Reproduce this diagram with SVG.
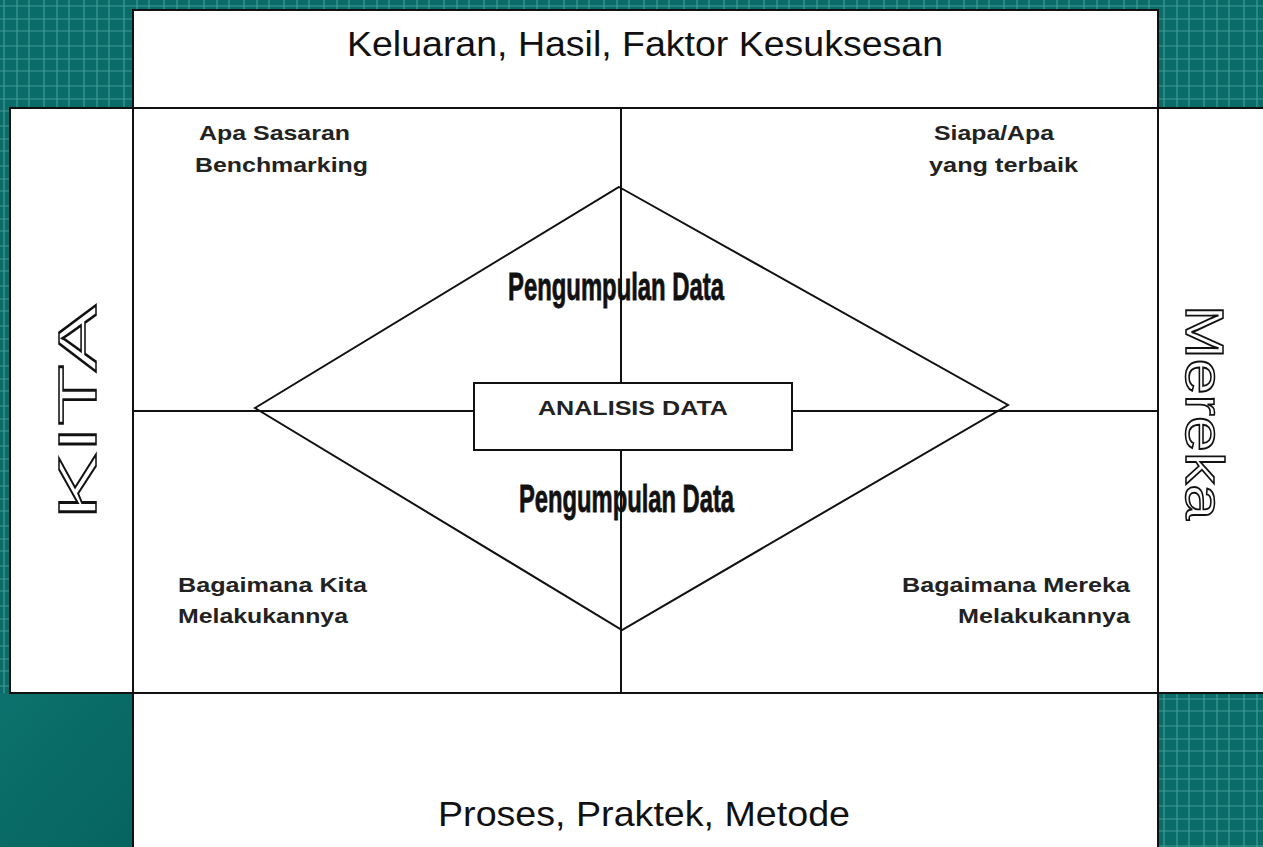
<svg xmlns="http://www.w3.org/2000/svg" width="1263" height="847" viewBox="0 0 1263 847">
<style>
.box{fill:#fff;stroke:#111;stroke-width:2}
.ln{stroke:#111;stroke-width:2;fill:none}
.big{font-family:"Liberation Sans",Arial,sans-serif;font-size:35px;fill:#111}
.lbl{font-family:"Liberation Sans",Arial,sans-serif;font-size:21px;font-weight:bold;fill:#222}
.pd{font-family:"Liberation Sans",Arial,sans-serif;font-size:38px;font-weight:bold;fill:#111;stroke:#111;stroke-width:0.8}
.out{font-family:"Liberation Sans",Arial,sans-serif;font-size:54px;fill:#fff;stroke:#111;stroke-width:1.6}
</style>
<defs>
<pattern id="grid" width="40" height="40" patternUnits="userSpaceOnUse">
<rect width="40" height="40" fill="#0a6c68"/>
<g stroke="#4fa9a2" stroke-width="1.2" opacity="0.75">
<line x1="4" y1="0" x2="4" y2="40"/><line x1="17" y1="0" x2="17" y2="40"/><line x1="29" y1="0" x2="29" y2="40"/>
<line x1="0" y1="6" x2="40" y2="6"/><line x1="0" y1="19" x2="40" y2="19"/><line x1="0" y1="31" x2="40" y2="31"/>
</g>
</pattern>
<linearGradient id="solid" x1="0" y1="0" x2="1" y2="1">
<stop offset="0" stop-color="#0c716c"/><stop offset="1" stop-color="#066460"/>
</linearGradient>
</defs>
<rect width="1263" height="847" fill="url(#grid)"/>
<rect x="0" y="693" width="134" height="154" fill="url(#solid)"/>
<g id="top">
<rect class="box" x="133" y="10" width="1025" height="98"/>
<text class="big" x="347" y="56" textLength="596" lengthAdjust="spacingAndGlyphs">Keluaran, Hasil, Faktor Kesuksesan</text>
</g>
<g id="middle">
<rect class="box" x="10" y="108" width="1260" height="585"/>
<line class="ln" x1="133" y1="108" x2="133" y2="693"/>
<line class="ln" x1="1158" y1="108" x2="1158" y2="693"/>
</g>
<g id="bottom">
<rect class="box" x="133" y="693" width="1025" height="160"/>
<text class="big" x="438" y="826" textLength="412" lengthAdjust="spacingAndGlyphs">Proses, Praktek, Metode</text>
</g>
<g id="connectors">
<line class="ln" x1="621" y1="108" x2="621" y2="693"/>
<line class="ln" x1="133" y1="411" x2="1158" y2="411"/>
<polygon class="ln" points="619,187 1008,405 622,630 255,408"/>
</g>
<g id="kita"><text class="out" x="-520" y="96" transform="rotate(-90)" textLength="215" lengthAdjust="spacingAndGlyphs">KITA</text></g>
<g id="mereka"><text class="out" x="305" y="-1186" transform="rotate(90)" textLength="215" lengthAdjust="spacingAndGlyphs">Mereka</text></g>
<g id="q1"><text class="lbl" x="199" y="140" textLength="151" lengthAdjust="spacingAndGlyphs">Apa Sasaran</text><text class="lbl" x="195" y="172" textLength="173" lengthAdjust="spacingAndGlyphs">Benchmarking</text></g>
<g id="q2"><text class="lbl" x="934" y="140" textLength="120" lengthAdjust="spacingAndGlyphs">Siapa/Apa</text><text class="lbl" x="929" y="172" textLength="149" lengthAdjust="spacingAndGlyphs">yang terbaik</text></g>
<g id="q3"><text class="lbl" x="178" y="592" textLength="189" lengthAdjust="spacingAndGlyphs">Bagaimana Kita</text><text class="lbl" x="178" y="623" textLength="170" lengthAdjust="spacingAndGlyphs">Melakukannya</text></g>
<g id="q4"><text class="lbl" x="902" y="592" textLength="228" lengthAdjust="spacingAndGlyphs">Bagaimana Mereka</text><text class="lbl" x="958" y="623" textLength="172" lengthAdjust="spacingAndGlyphs">Melakukannya</text></g>
<g id="pd1"><text class="pd" x="508" y="300" textLength="216" lengthAdjust="spacingAndGlyphs">Pengumpulan Data</text></g>
<g id="pd2"><text class="pd" x="519" y="512" textLength="215" lengthAdjust="spacingAndGlyphs">Pengumpulan Data</text></g>
<g id="analisis">
<rect class="box" x="474" y="383" width="318" height="67"/>
<text class="lbl" x="538" y="415" textLength="190" lengthAdjust="spacingAndGlyphs">ANALISIS DATA</text>
</g>
</svg>
